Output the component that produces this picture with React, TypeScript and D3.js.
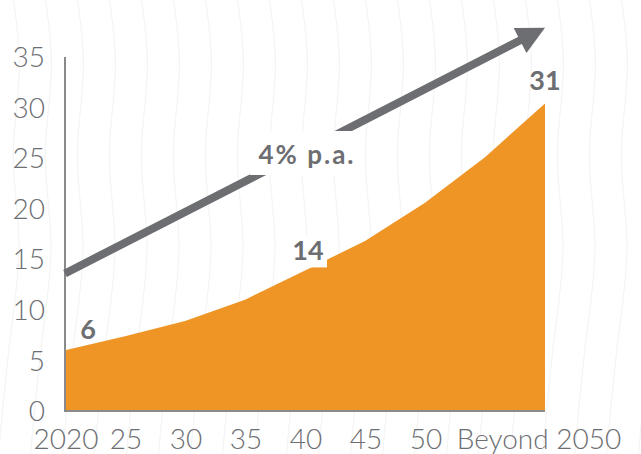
import React from "react";
import * as d3 from "d3";

const periods = ["2020", "2025", "2030", "2035", "2040", "2045", "2050", "2055", "2060"];
const values = [6.0, 7.4, 8.9, 11.0, 13.9, 16.8, 20.6, 25.1, 30.4];
const tickLabels = ["2020", "25", "30", "35", "40", "45", "50", "", ""];
const beyondLabel = "Beyond 2050";
const yTicks = [0, 5, 10, 15, 20, 25, 30, 35];
const valueLabels = [
  { index: 0, text: "6" },
  { index: 4, text: "14" },
  { index: 8, text: "31" },
];
const growthLabel = "4% p.a.";
const arrowStartValue = 13.6;
const arrowEndValue = 37.9;
// decorative background wave profile: [x offset, y]
const waveProfile: [number, number][] = [
  [0, -10],
  [12, 70],
  [-4, 155],
  [12, 245],
  [-2, 330],
  [-14, 460],
];
const waveStarts = d3.range(-20, 660, 32);

const W = 641;
const H = 454;
const GRAY = "#6d6e71";
const ORANGE = "#ee9526";
const FONT = "Lato, 'Open Sans', sans-serif";

export default function App() {
  const x = d3.scalePoint<string>().domain(periods).range([65, 545]);
  const y = d3.scaleLinear().domain([0, 35]).range([411, 57]);

  const area = d3
    .area<number>()
    .x((_, i) => x(periods[i])!)
    .y0(y(0))
    .y1((d) => y(d))
    .curve(d3.curveLinear);

  const waveLine = d3
    .line<[number, number]>()
    .x((d) => d[0])
    .y((d) => d[1])
    .curve(d3.curveBasis);

  // arrow
  const x0 = x(periods[0])!;
  const y0 = y(arrowStartValue);
  const x1 = x(periods[periods.length - 1])!;
  const y1 = y(arrowEndValue);
  const dx = x1 - x0;
  const dy = y1 - y0;
  const len = Math.hypot(dx, dy);
  const ux = dx / len;
  const uy = dy / len;
  const px = -uy;
  const py = ux;
  const headLen = 28;
  const headHalf = 14;
  const bx = x1 - ux * headLen;
  const by = y1 - uy * headLen;
  const head = [
    [x1, y1],
    [bx + px * headHalf, by + py * headHalf],
    [bx - px * headHalf, by - py * headHalf],
  ]
    .map((p) => p.join(","))
    .join(" ");

  const labelCx = 306;
  const labelCy = 155;

  return (
    <svg
      width={W}
      height={H}
      style={{ position: "absolute", left: 0, top: 0, background: "#fff" }}
      fontFamily={FONT}
    >
      <g fill="none" stroke="#f4f4f4" strokeWidth={1.2}>
        {waveStarts.map((s, i) => (
          <path key={i} d={waveLine(waveProfile.map(([o, yy]) => [s + o, yy] as [number, number]))!} />
        ))}
      </g>

      <path d={area(values)!} fill={ORANGE} />

      {/* axes */}
      <line x1={65} x2={65} y1={y(35)} y2={y(0)} stroke="#8a8a8c" strokeWidth={2} />
      <line x1={64} x2={545} y1={y(0)} y2={y(0)} stroke="#8a8a8c" strokeWidth={2} />

      {yTicks.map((t) => (
        <text
          key={t}
          x={45}
          y={y(t)}
          dy="0.36em"
          textAnchor="end"
          fontSize={28}
          fontWeight={300}
          fill={GRAY}
        >
          {t}
        </text>
      ))}

      {periods.map((p, i) =>
        tickLabels[i] ? (
          <text
            key={p}
            x={x(p)! + 1}
            y={449}
            textAnchor="middle"
            fontSize={28}
            fontWeight={300}
            fill={GRAY}
          >
            {tickLabels[i]}
          </text>
        ) : null
      )}
      <text x={539} y={449} textAnchor="middle" fontSize={28} fontWeight={300} fill={GRAY}>
        {beyondLabel}
      </text>

      {/* arrow */}
      <line x1={x0} y1={y0} x2={bx + ux * 2} y2={by + uy * 2} stroke={GRAY} strokeWidth={8} />
      <polygon points={head} fill={GRAY} />

      <rect x={labelCx - 56} y={labelCy - 24} width={112} height={44} fill="#fff" />
      <text
        x={labelCx + 1}
        y={labelCy}
        dy="0.36em"
        textAnchor="middle"
        fontSize={26}
        fontWeight={700}
        letterSpacing={2}
        fill={GRAY}
      >
        {growthLabel}
      </text>

      {valueLabels.map((l) => {
        const cx = x(periods[l.index])!;
        const cy = y(values[l.index]);
        if (l.index === 0) {
          return (
            <text key={l.text} x={cx + 23} y={cy - 11} textAnchor="middle" fontSize={27} fontWeight={700} fill={GRAY}>
              {l.text}
            </text>
          );
        }
        if (l.index === periods.length - 1) {
          return (
            <text key={l.text} x={cx} y={cy - 14} textAnchor="middle" fontSize={27} fontWeight={700} fill={GRAY}>
              {l.text}
            </text>
          );
        }
        return (
          <g key={l.text}>
            <rect x={cx - 16} y={cy - 33} width={38} height={30} fill="#fff" />
            <text x={cx + 3} y={cy - 10} textAnchor="middle" fontSize={27} fontWeight={700} fill={GRAY}>
              {l.text}
            </text>
          </g>
        );
      })}
    </svg>
  );
}
